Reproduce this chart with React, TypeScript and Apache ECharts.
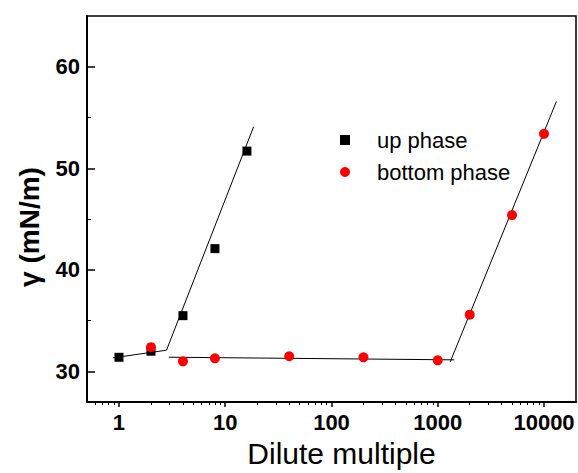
import React, { useEffect, useRef } from "react";
import * as echarts from "echarts";

const FONT = "'Liberation Sans', Arial, sans-serif";

// Data
const upX = [1, 2, 4, 8, 16];
const upY = [31.4, 32.0, 35.5, 42.1, 51.7];

const bottomX = [2, 4, 8, 40, 200, 1000, 2000, 5000, 10000];
const bottomY = [32.4, 31.0, 31.3, 31.5, 31.4, 31.1, 35.6, 45.4, 53.4];

// Fitted straight lines (end points)
const fitUpLow = [[0.88, 31.35], [2.8, 32.1]];
const fitUpHigh = [[2.8, 32.1], [18.5, 54.1]];
const fitBottomFlat = [[2.94, 31.41], [1430, 31.15]];
const fitBottomHigh = [[1310, 30.95], [13100, 56.6]];

// Axis ticks
const xMajorTicks = [1, 10, 100, 1000, 10000];
const xMinorTicks = [
  0.6, 0.7, 0.8, 0.9,
  2, 3, 4, 5, 6, 7, 8, 9,
  20, 30, 40, 50, 60, 70, 80, 90,
  200, 300, 400, 500, 600, 700, 800, 900,
  2000, 3000, 4000, 5000, 6000, 7000, 8000, 9000,
];
const yMajorTicks = [30, 40, 50, 60];
const yMinorTicks = [35, 45, 55];

export default function App() {
  const ref = useRef<HTMLDivElement>(null);

  useEffect(() => {
    if (!ref.current) return;
    const chart = echarts.init(ref.current, null, { renderer: "svg" });

    const zip = (xs: number[], ys: number[]) => xs.map((x, i) => [x, ys[i]]);
    const fitLine = (data: number[][]) => ({
      type: "line",
      data,
      showSymbol: false,
      symbol: "none",
      silent: true,
      lineStyle: { color: "#000", width: 1 },
      z: 1,
    });

    const xCommon = {
      type: "log",
      logBase: 10,
      min: 0.5,
      max: 20000,
      splitLine: { show: false },
      minorTick: { show: false },
      position: "bottom",
    };
    const yCommon = {
      type: "value",
      min: 27,
      max: 65,
      splitLine: { show: false },
      position: "left",
    };

    chart.setOption({
      animation: false,
      backgroundColor: "#fff",
      grid: {
        left: 87,
        right: 2,
        top: 16,
        bottom: 69,
        show: true,
        borderColor: "#000",
        borderWidth: 1.5,
        backgroundColor: "transparent",
      },
      legend: {
        data: ["up phase", "bottom phase"],
        orient: "vertical",
        left: 340,
        top: 129,
        padding: 0,
        itemWidth: 10,
        itemHeight: 10,
        itemGap: 10,
        textStyle: {
          fontFamily: FONT,
          fontSize: 22,
          color: "#000",
          lineHeight: 20,
          padding: [0, 0, 0, 22],
        },
      },
      xAxis: [
        {
          ...xCommon,
          name: "Dilute multiple",
          nameLocation: "middle",
          nameGap: 36,
          nameTextStyle: {
            fontFamily: FONT,
            fontSize: 30,
            color: "#000",
            padding: [0, 0, 0, 20],
          },
          axisLine: { show: true, lineStyle: { color: "#000", width: 2 } },
          axisTick: {
            show: true,
            inside: false,
            length: 5,
            lineStyle: { color: "#000", width: 1.5 },
            customValues: xMajorTicks,
          },
          axisLabel: {
            show: true,
            customValues: xMajorTicks,
            margin: 9,
            fontFamily: FONT,
            fontSize: 22,
            fontWeight: "bold",
            color: "#000",
            formatter: (v: number) => String(Math.round(v)),
          },
        },
        {
          ...xCommon,
          axisLine: { show: false },
          axisTick: {
            show: true,
            inside: false,
            length: 3,
            lineStyle: { color: "#000", width: 1 },
            customValues: xMinorTicks,
          },
          axisLabel: { show: false },
        },
      ],
      yAxis: [
        {
          ...yCommon,
          axisLine: { show: true, lineStyle: { color: "#000", width: 2 } },
          axisTick: {
            show: true,
            inside: true,
            length: 8,
            lineStyle: { color: "#000", width: 1.5 },
            customValues: yMajorTicks,
          },
          axisLabel: {
            show: true,
            customValues: yMajorTicks,
            margin: 7,
            fontFamily: FONT,
            fontSize: 22,
            fontWeight: "bold",
            color: "#000",
          },
        },
        {
          ...yCommon,
          axisLine: { show: false },
          axisTick: {
            show: true,
            inside: true,
            length: 4,
            lineStyle: { color: "#000", width: 1 },
            customValues: yMinorTicks,
          },
          axisLabel: { show: false },
        },
      ],
      graphic: [
        {
          type: "text",
          x: 29,
          y: 227,
          rotation: Math.PI / 2,
          style: {
            text: "γ (mN/m)",
            fontFamily: FONT,
            fontSize: 28,
            fontWeight: "bold",
            fill: "#000",
            align: "center",
            verticalAlign: "middle",
          },
        },
      ],
      series: [
        fitLine(fitUpLow),
        fitLine(fitUpHigh),
        fitLine(fitBottomFlat),
        fitLine(fitBottomHigh),
        {
          name: "up phase",
          type: "scatter",
          symbol: "rect",
          symbolSize: 9,
          itemStyle: { color: "#000", opacity: 1 },
          emphasis: { disabled: true },
          data: zip(upX, upY),
          z: 3,
        },
        {
          name: "bottom phase",
          type: "scatter",
          symbol: "circle",
          symbolSize: 10,
          itemStyle: { color: "#ff0000", opacity: 1 },
          emphasis: { disabled: true },
          data: zip(bottomX, bottomY),
          z: 3,
        },
      ],
    });

    return () => chart.dispose();
  }, []);

  return <div ref={ref} style={{ width: 578, height: 473, position: "absolute", left: 0, top: 0 }} />;
}
